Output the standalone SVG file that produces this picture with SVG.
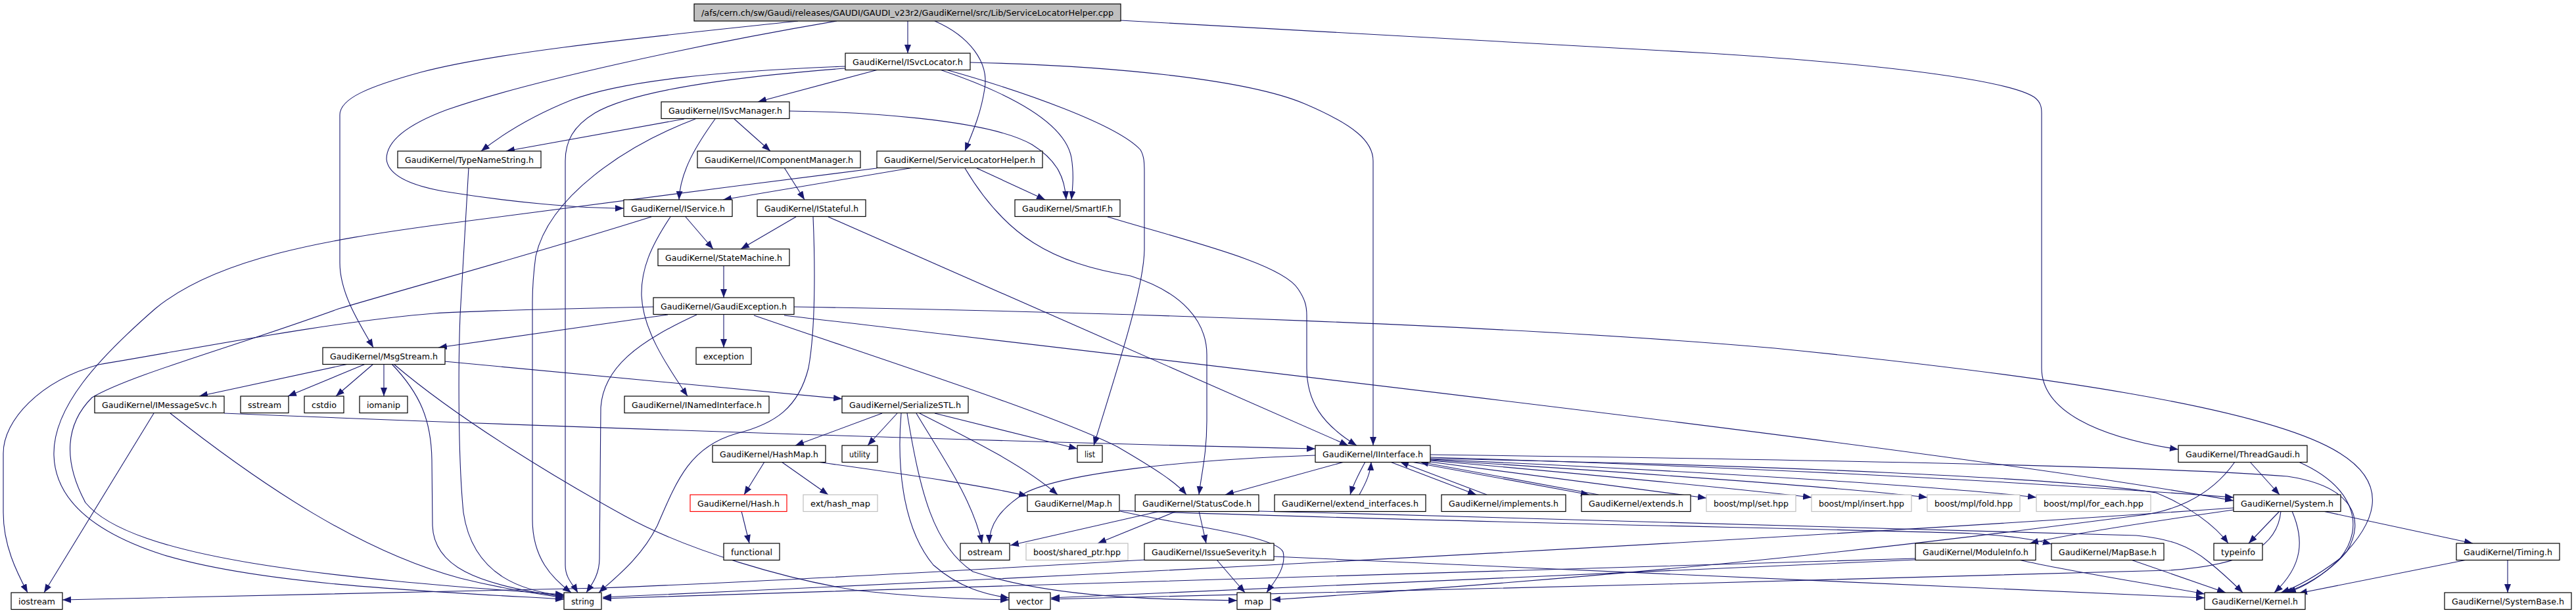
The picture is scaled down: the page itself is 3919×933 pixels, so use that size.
<svg xmlns="http://www.w3.org/2000/svg" width="3919" height="933" viewBox="0 0 3919 933">
<style>
.nd rect{fill:#fff;stroke:#000;stroke-width:1.2}
.nd.gr rect{stroke:#bfbfbf}
.nd.rd rect{stroke:#ff0000}
.nd.rt rect{fill:#bfbfbf}
.nd text{font-family:"DejaVu Sans","Liberation Sans",sans-serif;font-size:13px;fill:#000;text-anchor:middle}
#edges path{fill:none;stroke:#191970;stroke-width:1.1;marker-end:url(#a)}
</style>
<defs>
<marker id="a" markerUnits="userSpaceOnUse" markerWidth="14" markerHeight="11" refX="13" refY="5" orient="auto"><path d="M0,0 L13,5 L0,10 z" fill="#191970"/></marker>
</defs>
<rect width="3919" height="933" fill="#fff"/>
<g id="edges">
<path d="M1381,32 L1381,81"/>
<path d="M1422,32 C1475,55 1505,95 1498,135 C1492,175 1478,205 1468,230"/>
<path d="M1214,32 C1000,55 760,78 640,110 C560,132 517,150 517,175 L517,400 C517,445 545,490 568,529"/>
<path d="M1273,32 C1050,70 800,125 680,167 C605,195 588,222 588,242 C590,265 620,282 680,292 C780,308 880,317 949,317"/>
<path d="M1705,31 L2600,81 C2900,100 3060,125 3095,148 C3104,155 3106,162 3106,172 L3106,560 C3106,625 3190,665 3314,684"/>
<path d="M1336,106 L1153,155"/>
<path d="M1286,101 C1100,108 950,122 870,152 C820,172 770,200 732,230"/>
<path d="M1286,104 C1100,118 960,140 905,172 C872,192 860,215 860,245 L860,860 C860,880 872,890 879,902"/>
<path d="M1430,106 C1530,140 1620,185 1630,240 C1634,265 1632,285 1630,304"/>
<path d="M1439,106 C1560,140 1700,190 1735,228 C1741,238 1741,250 1741,262 L1741,380 C1740,440 1700,560 1664,678"/>
<path d="M1476,95 C1700,100 1900,122 1985,158 C2060,190 2089,215 2089,245 L2089,678"/>
<path d="M1041,181 L770,230"/>
<path d="M1058,181 C950,222 835,300 815,390 C811,420 810,440 810,460 L810,790 C810,850 840,880 869,902"/>
<path d="M1088,181 C1060,220 1035,260 1033,304"/>
<path d="M1117,181 L1172,230"/>
<path d="M1201,169 C1300,170 1500,180 1570,220 C1610,245 1620,272 1622,304"/>
<path d="M713,255 L700,480 C697,560 697,700 705,780 C720,880 800,900 858,907"/>
<path d="M1193,255 L1224,304"/>
<path d="M1390,255 L1100,304"/>
<path d="M1334,256 C1100,285 800,325 660,343 C500,365 330,392 236,470 C150,545 80,620 82,693 C84,760 140,810 250,845 C400,890 650,900 858,912"/>
<path d="M1486,256 L1590,304"/>
<path d="M1468,256 C1530,360 1600,400 1720,420 C1800,445 1836,490 1836,540 L1836,640 C1836,690 1828,720 1824,753"/>
<path d="M1043,330 L1085,379"/>
<path d="M1020,330 C990,375 975,410 976,450 C978,500 1010,550 1046,603"/>
<path d="M991,330 C800,390 650,430 515,470 C350,530 200,570 140,605 C100,645 95,700 130,765 C200,850 500,880 858,905"/>
<path d="M1211,330 L1127,379"/>
<path d="M1237,330 C1240,400 1241,500 1230,560 C1215,620 1180,645 1120,660 C1050,680 1030,730 1000,800 C975,850 935,880 911,902"/>
<path d="M1260,330 L2051,678"/>
<path d="M1685,330 C1800,365 1950,400 1975,440 C1985,455 1988,465 1988,480 L1988,560 C1988,610 2010,645 2064,678"/>
<path d="M1101,405 L1101,453"/>
<path d="M1016,479 L667,529"/>
<path d="M1101,479 L1101,529"/>
<path d="M1060,479 C970,520 918,560 914,620 L912,850 C912,875 900,890 892,902"/>
<path d="M994,467 C850,470 720,473 660,477 C500,490 300,530 150,555 C60,580 5,640 5,690 L5,780 C5,830 25,870 42,902"/>
<path d="M1147,480 C1350,550 1600,630 1700,680 C1760,715 1790,735 1805,753"/>
<path d="M1193,480 C2000,575 3000,690 3398,762"/>
<path d="M1208,467 C1700,475 2300,495 2700,530 C3100,570 3450,620 3560,690 C3640,740 3610,800 3560,850 C3520,880 3490,895 3470,902"/>
<path d="M530,554 L303,603"/>
<path d="M556,554 L438,603"/>
<path d="M568,554 L511,603"/>
<path d="M584,554 L584,603"/>
<path d="M596,554 C640,600 656,640 657,700 L658,800 C660,860 720,890 858,908"/>
<path d="M600,555 C700,640 850,730 950,785 C1050,840 1200,882 1300,898 C1400,910 1480,912 1535,913"/>
<path d="M676,550 L1281,607"/>
<path d="M234,629 L67,902"/>
<path d="M259,629 C400,740 550,840 700,880 C780,900 830,905 858,910"/>
<path d="M341,629 C800,648 1500,672 2001,683"/>
<path d="M1342,629 L1210,678"/>
<path d="M1365,629 L1320,678"/>
<path d="M1422,629 L1639,683"/>
<path d="M1399,629 C1480,670 1560,710 1609,753"/>
<path d="M1394,629 C1430,690 1480,760 1494,827"/>
<path d="M1371,629 C1365,700 1370,800 1420,860 C1460,895 1500,905 1535,910"/>
<path d="M1380,629 C1400,750 1420,830 1480,870 C1600,910 1750,912 1882,914"/>
<path d="M1163,703 L1132,753"/>
<path d="M1189,703 L1260,753"/>
<path d="M1243,703 C1400,725 1500,740 1563,755"/>
<path d="M1128,778 L1140,827"/>
<path d="M1704,778 C1800,800 1940,815 1952,840 C1958,865 1935,890 1927,902"/>
<path d="M1704,777 C2200,795 2800,805 3000,812 C3060,816 3090,820 3121,828"/>
<path d="M1765,778 L1537,830"/>
<path d="M1790,778 L1670,827"/>
<path d="M1824,778 L1835,827"/>
<path d="M1915,778 C2400,790 2900,805 3250,815 C3300,820 3330,830 3360,855 C3385,875 3400,890 3412,902"/>
<path d="M1851,852 L1894,902"/>
<path d="M1938,847 C2500,870 3000,895 3354,910"/>
<path d="M2077,703 C2065,725 2058,740 2054,753"/>
<path d="M2068,753 C2078,735 2085,720 2086,703"/>
<path d="M2115,703 L2246,753"/>
<path d="M2262,753 L2130,703"/>
<path d="M2147,703 L2418,753"/>
<path d="M2432,753 L2160,703"/>
<path d="M2176,703 L2596,758"/>
<path d="M2176,701 C2400,720 2650,745 2756,757"/>
<path d="M2176,700 C2500,720 2800,742 2932,757"/>
<path d="M2176,699 C2600,718 2950,740 3098,757"/>
<path d="M2176,696 C2700,712 3100,735 3398,757"/>
<path d="M2176,698 C2700,708 3150,728 3280,750 C3330,770 3370,800 3390,827"/>
<path d="M2176,692 C2800,700 3300,710 3480,725 C3580,740 3600,790 3570,840 C3540,875 3500,895 3475,902"/>
<path d="M2001,693 C1800,700 1620,720 1560,750 C1520,775 1505,800 1505,827"/>
<path d="M2045,703 L1864,753"/>
<path d="M3815,852 L3815,902"/>
<path d="M3753,852 L3497,903"/>
<path d="M3534,778 L3762,827"/>
<path d="M3468,778 L3421,827"/>
<path d="M3487,778 C3505,820 3505,860 3460,902"/>
<path d="M3398,776 C3300,790 3150,812 3088,827"/>
<path d="M3398,773 C2800,815 1800,870 917,909"/>
<path d="M3470,778 C3465,830 3420,860 3300,868 C2800,885 2000,900 1599,912"/>
<path d="M2914,850 C2400,868 1600,888 917,911"/>
<path d="M2914,852 C2400,875 1900,900 1599,910"/>
<path d="M3071,852 C3150,870 3250,885 3354,904"/>
<path d="M3242,852 L3386,902"/>
<path d="M3423,703 L3468,753"/>
<path d="M3497,703 C3580,740 3600,800 3560,850 C3530,880 3500,895 3480,902"/>
<path d="M3400,703 C3360,760 3300,780 3250,785 C2900,830 2600,868 1935,913"/>
<path d="M1743,852 C1400,872 1100,888 912,895 C700,902 400,906 95,913"/>
</g>
<g id="n_root" class="nd rt"><rect x="1056" y="6" width="649" height="26"/><text x="1380.5" y="23.5" textLength="627" lengthAdjust="spacingAndGlyphs">/afs/cern.ch/sw/Gaudi/releases/GAUDI/GAUDI_v23r2/GaudiKernel/src/Lib/ServiceLocatorHelper.cpp</text></g>
<g id="n_isvclocator" class="nd"><rect x="1286" y="81" width="190" height="25.5"/><text x="1381" y="98.5" textLength="168" lengthAdjust="spacingAndGlyphs">GaudiKernel/ISvcLocator.h</text></g>
<g id="n_isvcmanager" class="nd"><rect x="1006" y="155" width="195" height="25.5"/><text x="1103.5" y="172.5" textLength="173" lengthAdjust="spacingAndGlyphs">GaudiKernel/ISvcManager.h</text></g>
<g id="n_typenamestring" class="nd"><rect x="605" y="230" width="218" height="25.5"/><text x="714" y="247.5" textLength="196" lengthAdjust="spacingAndGlyphs">GaudiKernel/TypeNameString.h</text></g>
<g id="n_icomponentmanager" class="nd"><rect x="1061" y="230" width="248" height="25.5"/><text x="1185" y="247.5" textLength="226" lengthAdjust="spacingAndGlyphs">GaudiKernel/IComponentManager.h</text></g>
<g id="n_servicelocatorhelper" class="nd"><rect x="1334" y="230" width="252" height="25.5"/><text x="1460" y="247.5" textLength="230" lengthAdjust="spacingAndGlyphs">GaudiKernel/ServiceLocatorHelper.h</text></g>
<g id="n_iservice" class="nd"><rect x="949" y="304" width="165" height="25.5"/><text x="1031.5" y="321.5" textLength="143" lengthAdjust="spacingAndGlyphs">GaudiKernel/IService.h</text></g>
<g id="n_istateful" class="nd"><rect x="1152" y="304" width="165" height="25.5"/><text x="1234.5" y="321.5" textLength="143" lengthAdjust="spacingAndGlyphs">GaudiKernel/IStateful.h</text></g>
<g id="n_smartif" class="nd"><rect x="1544" y="304" width="160" height="25.5"/><text x="1624" y="321.5" textLength="138" lengthAdjust="spacingAndGlyphs">GaudiKernel/SmartIF.h</text></g>
<g id="n_statemachine" class="nd"><rect x="1001" y="379" width="200" height="25.5"/><text x="1101" y="396.5" textLength="178" lengthAdjust="spacingAndGlyphs">GaudiKernel/StateMachine.h</text></g>
<g id="n_gaudiexception" class="nd"><rect x="994" y="453" width="214" height="25.5"/><text x="1101" y="470.5" textLength="192" lengthAdjust="spacingAndGlyphs">GaudiKernel/GaudiException.h</text></g>
<g id="n_msgstream" class="nd"><rect x="491" y="529" width="186" height="25.5"/><text x="584" y="546.5" textLength="164" lengthAdjust="spacingAndGlyphs">GaudiKernel/MsgStream.h</text></g>
<g id="n_exception" class="nd"><rect x="1059" y="529" width="84" height="25.5"/><text x="1101" y="546.5" textLength="62" lengthAdjust="spacingAndGlyphs">exception</text></g>
<g id="n_imessagesvc" class="nd"><rect x="144" y="603" width="197" height="25.5"/><text x="242.5" y="620.5" textLength="175" lengthAdjust="spacingAndGlyphs">GaudiKernel/IMessageSvc.h</text></g>
<g id="n_sstream" class="nd"><rect x="366" y="603" width="73" height="25.5"/><text x="402.5" y="620.5" textLength="51" lengthAdjust="spacingAndGlyphs">sstream</text></g>
<g id="n_cstdio" class="nd"><rect x="463" y="603" width="60" height="25.5"/><text x="493" y="620.5" textLength="38" lengthAdjust="spacingAndGlyphs">cstdio</text></g>
<g id="n_iomanip" class="nd"><rect x="547" y="603" width="73" height="25.5"/><text x="583.5" y="620.5" textLength="51" lengthAdjust="spacingAndGlyphs">iomanip</text></g>
<g id="n_inamedinterface" class="nd"><rect x="950" y="603" width="220" height="25.5"/><text x="1060" y="620.5" textLength="198" lengthAdjust="spacingAndGlyphs">GaudiKernel/INamedInterface.h</text></g>
<g id="n_serializestl" class="nd"><rect x="1281" y="603" width="192" height="25.5"/><text x="1377" y="620.5" textLength="170" lengthAdjust="spacingAndGlyphs">GaudiKernel/SerializeSTL.h</text></g>
<g id="n_hashmap" class="nd"><rect x="1084" y="678" width="172" height="25.5"/><text x="1170" y="695.5" textLength="150" lengthAdjust="spacingAndGlyphs">GaudiKernel/HashMap.h</text></g>
<g id="n_utility" class="nd"><rect x="1281" y="678" width="54" height="25.5"/><text x="1308" y="695.5" textLength="32" lengthAdjust="spacingAndGlyphs">utility</text></g>
<g id="n_list" class="nd"><rect x="1639" y="678" width="38" height="25.5"/><text x="1658" y="695.5" textLength="16" lengthAdjust="spacingAndGlyphs">list</text></g>
<g id="n_iinterface" class="nd"><rect x="2001" y="678" width="175" height="25.5"/><text x="2088.5" y="695.5" textLength="153" lengthAdjust="spacingAndGlyphs">GaudiKernel/IInterface.h</text></g>
<g id="n_threadgaudi" class="nd"><rect x="3314" y="678" width="196" height="25.5"/><text x="3412" y="695.5" textLength="174" lengthAdjust="spacingAndGlyphs">GaudiKernel/ThreadGaudi.h</text></g>
<g id="n_hash" class="nd rd"><rect x="1050" y="753" width="147" height="25.5"/><text x="1123.5" y="770.5" textLength="125" lengthAdjust="spacingAndGlyphs">GaudiKernel/Hash.h</text></g>
<g id="n_exthashmap" class="nd gr"><rect x="1222" y="753" width="113" height="25.5"/><text x="1278.5" y="770.5" textLength="91" lengthAdjust="spacingAndGlyphs">ext/hash_map</text></g>
<g id="n_map_h" class="nd"><rect x="1563" y="753" width="140" height="25.5"/><text x="1633" y="770.5" textLength="118" lengthAdjust="spacingAndGlyphs">GaudiKernel/Map.h</text></g>
<g id="n_statuscode" class="nd"><rect x="1727" y="753" width="188" height="25.5"/><text x="1821" y="770.5" textLength="166" lengthAdjust="spacingAndGlyphs">GaudiKernel/StatusCode.h</text></g>
<g id="n_extend_interfaces" class="nd"><rect x="1939" y="753" width="230" height="25.5"/><text x="2054" y="770.5" textLength="208" lengthAdjust="spacingAndGlyphs">GaudiKernel/extend_interfaces.h</text></g>
<g id="n_implements" class="nd"><rect x="2193" y="753" width="189" height="25.5"/><text x="2287.5" y="770.5" textLength="167" lengthAdjust="spacingAndGlyphs">GaudiKernel/implements.h</text></g>
<g id="n_extends" class="nd"><rect x="2406" y="753" width="166" height="25.5"/><text x="2489" y="770.5" textLength="144" lengthAdjust="spacingAndGlyphs">GaudiKernel/extends.h</text></g>
<g id="n_mplset" class="nd gr"><rect x="2596" y="753" width="136" height="25.5"/><text x="2664" y="770.5" textLength="114" lengthAdjust="spacingAndGlyphs">boost/mpl/set.hpp</text></g>
<g id="n_mplinsert" class="nd gr"><rect x="2756" y="753" width="152" height="25.5"/><text x="2832" y="770.5" textLength="130" lengthAdjust="spacingAndGlyphs">boost/mpl/insert.hpp</text></g>
<g id="n_mplfold" class="nd gr"><rect x="2932" y="753" width="141" height="25.5"/><text x="3002.5" y="770.5" textLength="119" lengthAdjust="spacingAndGlyphs">boost/mpl/fold.hpp</text></g>
<g id="n_mplforeach" class="nd gr"><rect x="3098" y="753" width="174" height="25.5"/><text x="3185" y="770.5" textLength="152" lengthAdjust="spacingAndGlyphs">boost/mpl/for_each.hpp</text></g>
<g id="n_system" class="nd"><rect x="3398" y="753" width="163" height="25.5"/><text x="3479.5" y="770.5" textLength="141" lengthAdjust="spacingAndGlyphs">GaudiKernel/System.h</text></g>
<g id="n_functional" class="nd"><rect x="1101" y="827" width="85" height="25.5"/><text x="1143.5" y="844.5" textLength="63" lengthAdjust="spacingAndGlyphs">functional</text></g>
<g id="n_ostream" class="nd"><rect x="1461" y="827" width="75" height="25.5"/><text x="1498.5" y="844.5" textLength="53" lengthAdjust="spacingAndGlyphs">ostream</text></g>
<g id="n_sharedptr" class="nd gr"><rect x="1561" y="827" width="155" height="25.5"/><text x="1638.5" y="844.5" textLength="133" lengthAdjust="spacingAndGlyphs">boost/shared_ptr.hpp</text></g>
<g id="n_issueseverity" class="nd"><rect x="1741" y="827" width="197" height="25.5"/><text x="1839.5" y="844.5" textLength="175" lengthAdjust="spacingAndGlyphs">GaudiKernel/IssueSeverity.h</text></g>
<g id="n_moduleinfo" class="nd"><rect x="2914" y="827" width="183" height="25.5"/><text x="3005.5" y="844.5" textLength="161" lengthAdjust="spacingAndGlyphs">GaudiKernel/ModuleInfo.h</text></g>
<g id="n_mapbase" class="nd"><rect x="3121" y="827" width="171" height="25.5"/><text x="3206.5" y="844.5" textLength="149" lengthAdjust="spacingAndGlyphs">GaudiKernel/MapBase.h</text></g>
<g id="n_typeinfo" class="nd"><rect x="3368" y="827" width="74" height="25.5"/><text x="3405" y="844.5" textLength="52" lengthAdjust="spacingAndGlyphs">typeinfo</text></g>
<g id="n_timing" class="nd"><rect x="3737" y="827" width="157" height="25.5"/><text x="3815.5" y="844.5" textLength="135" lengthAdjust="spacingAndGlyphs">GaudiKernel/Timing.h</text></g>
<g id="n_iostream" class="nd"><rect x="17" y="902" width="78" height="25.5"/><text x="56" y="919.5" textLength="56" lengthAdjust="spacingAndGlyphs">iostream</text></g>
<g id="n_string" class="nd"><rect x="858" y="902" width="57" height="25.5"/><text x="886.5" y="919.5" textLength="35" lengthAdjust="spacingAndGlyphs">string</text></g>
<g id="n_vector" class="nd"><rect x="1535" y="902" width="63" height="25.5"/><text x="1566.5" y="919.5" textLength="41" lengthAdjust="spacingAndGlyphs">vector</text></g>
<g id="n_map" class="nd"><rect x="1882" y="902" width="51" height="25.5"/><text x="1907.5" y="919.5" textLength="29" lengthAdjust="spacingAndGlyphs">map</text></g>
<g id="n_kernel" class="nd"><rect x="3354" y="902" width="153" height="25.5"/><text x="3430.5" y="919.5" textLength="131" lengthAdjust="spacingAndGlyphs">GaudiKernel/Kernel.h</text></g>
<g id="n_systembase" class="nd"><rect x="3719" y="902" width="193" height="25.5"/><text x="3815.5" y="919.5" textLength="171" lengthAdjust="spacingAndGlyphs">GaudiKernel/SystemBase.h</text></g>
</svg>
